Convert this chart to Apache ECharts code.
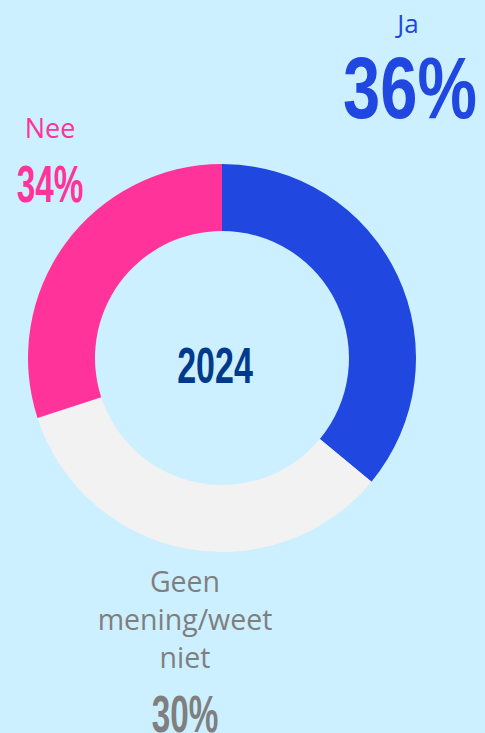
<!DOCTYPE html>
<html><head><meta charset="utf-8">
<script src="https://cdn.jsdelivr.net/npm/echarts@6/dist/echarts.min.js"></script>
<style>html,body{margin:0;padding:0;background:#CCF0FF;}#c{width:485px;height:733px;}</style>
</head><body><div id="c"></div>
<script>
// Data
const categories = ['Ja', 'Geen mening/weet niet', 'Nee'];
const sliceValues = [36, 34, 30];          // slice sizes as drawn
const labelPercents = ['36%', '30%', '34%']; // percentages as printed
const labelNames = ['Ja', 'Geen\nmening/weet\nniet', 'Nee'];
const centerLabel = '2024';
const colors = ['#2048E0', '#F2F2F2', '#FF3399'];
const textColors = ['#2048E0', '#7F7F7F', '#FF3399'];

const chart = echarts.init(document.getElementById('c'), null, {renderer: 'svg'});
const pctFont = 'Liberation Sans, Arial, sans-serif';
const nameFont = '"Open Sans", "Noto Sans", sans-serif';

function condensed(text, x, y, size, scale, color) {
  return {type: 'text', x: x, y: y, scaleX: scale, silent: true,
    style: {text: text, fill: color, font: 'bold ' + size + 'px ' + pctFont,
      textAlign: 'center', textVerticalAlign: 'middle'}};
}
function name(text, x, y, size, color, lh) {
  return {type: 'text', x: x, y: y, silent: true,
    style: {text: text, fill: color, font: size + 'px ' + nameFont,
      textAlign: 'center', textVerticalAlign: 'middle', lineHeight: lh}};
}

chart.setOption({
  backgroundColor: '#CCF0FF',
  animation: false,
  series: [{
    type: 'pie',
    center: [222, 358],
    radius: [127, 194],
    startAngle: 90,
    clockwise: true,
    avoidLabelOverlap: false,
    label: {show: false},
    labelLine: {show: false},
    emphasis: {disabled: true},
    itemStyle: {borderWidth: 0},
    data: categories.map((c, i) => ({name: c, value: sliceValues[i], itemStyle: {color: colors[i]}}))
  }],
  graphic: [
    name(labelNames[0], 408, 23, 26, textColors[0], 30),
    condensed(labelPercents[0], 410, 88, 88, 0.76, textColors[0]),
    name(labelNames[2], 50, 127, 27, textColors[2], 30),
    condensed(labelPercents[2], 50, 184, 52, 0.64, textColors[2]),
    name(labelNames[1], 185, 619, 28.5, textColors[1], 38),
    condensed(labelPercents[1], 185, 714, 52, 0.64, textColors[1]),
    condensed(centerLabel, 215, 365, 50, 0.68, '#003A8C')
  ]
});
</script></body></html>
